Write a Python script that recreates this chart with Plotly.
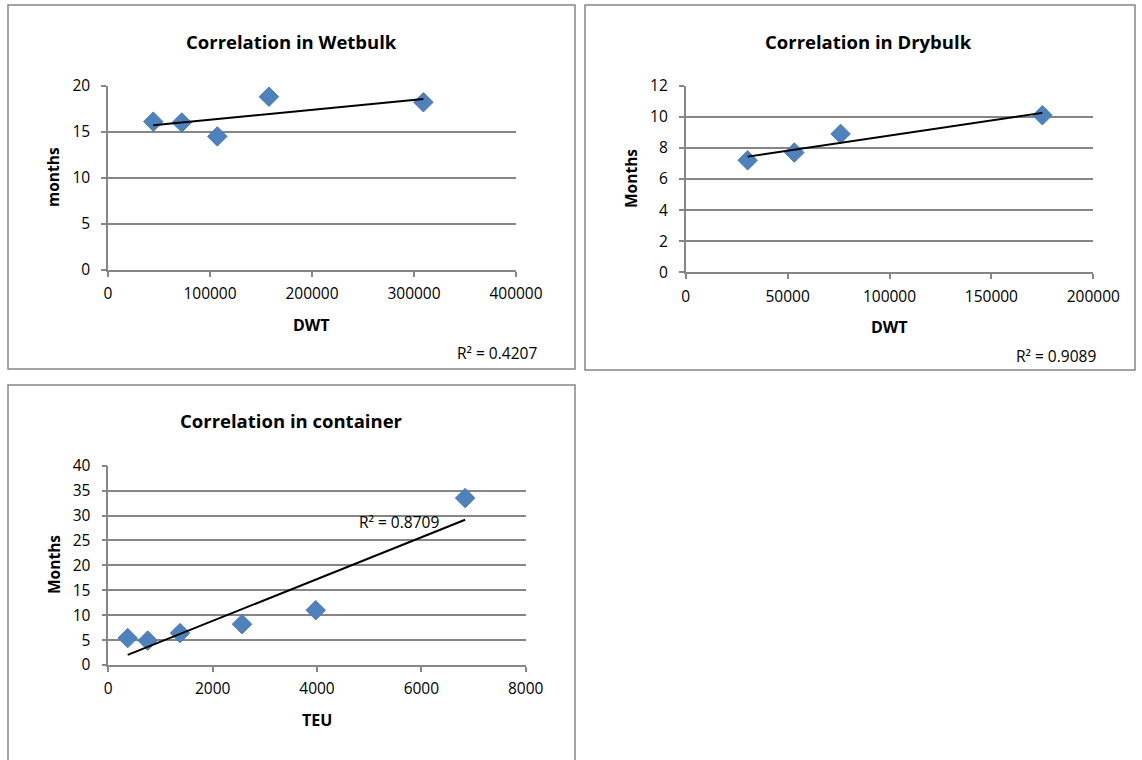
import numpy as np
import plotly.graph_objects as go

# --- data -------------------------------------------------------------
wet_dwt = [44400, 72300, 107200, 157800, 309200]
wet_months = [16.1, 16.0, 14.5, 18.8, 18.2]
wet_r2 = "R² = 0.4207"

dry_dwt = [30400, 53300, 76000, 175000]
dry_months = [7.2, 7.7, 8.9, 10.1]
dry_r2 = "R² = 0.9089"

cont_teu = [372, 755, 1375, 2563, 3976, 6839]
cont_months = [5.4, 4.9, 6.4, 8.2, 11.0, 33.5]
cont_r2 = "R² = 0.8709"

titles = ["Correlation in Wetbulk", "Correlation in Drybulk", "Correlation in container"]
x_titles = ["DWT", "DWT", "TEU"]
y_titles = ["months", "Months", "Months"]

# --- page geometry (pixels) ------------------------------------------
W, H = 1142, 760
FONT = "Open Sans"
GRAY = "#868686"
BLUE = "#4F81BD"


def px(x):
    return x / W


def py(y):
    return 1 - y / H


fig = go.Figure()

panels = [
    dict(x=wet_dwt, y=wet_months, xr=[0, 400000], xd=100000, yr=[0, 20], yd=5,
         plot=(108, 85.7, 516, 270), box=(8, 5, 575, 369), closed=True,
         title_xy=(291, 41), xt_xy=(312, 325), yt_xy=(53, 177),
         r2=wet_r2, r2_xy=(539, 353), r2_anchor="right"),
    dict(x=dry_dwt, y=dry_months, xr=[0, 200000], xd=50000, yr=[0, 12], yd=2,
         plot=(685.7, 85.7, 1093.3, 272.3), box=(585, 5, 1135, 370), closed=True,
         title_xy=(868, 41), xt_xy=(889.5, 327), yt_xy=(631, 179),
         r2=dry_r2, r2_xy=(1098, 356), r2_anchor="right"),
    dict(x=cont_teu, y=cont_months, xr=[0, 8000], xd=2000, yr=[0, 40], yd=5,
         plot=(108.3, 465.7, 525.7, 665), box=(8, 385, 575, 760), closed=False,
         title_xy=(291, 420), xt_xy=(317, 720), yt_xy=(54, 565),
         r2=cont_r2, r2_xy=(357, 522), r2_anchor="left"),
]

annotations = []
shapes = []

for i, p in enumerate(panels, start=1):
    xa = "x" if i == 1 else f"x{i}"
    ya = "y" if i == 1 else f"y{i}"
    x0, y0, x1, y1 = p["plot"]

    # scatter points
    fig.add_trace(go.Scatter(
        x=p["x"], y=p["y"], mode="markers", xaxis=xa, yaxis=ya,
        marker=dict(symbol="diamond", size=15, color=BLUE,
                    line=dict(color="#4A7EBB", width=1)),
        showlegend=False, hoverinfo="x+y", cliponaxis=False))

    # linear trend line over the data span
    slope, intercept = np.polyfit(p["x"], p["y"], 1)
    tx = np.array([min(p["x"]), max(p["x"])])
    fig.add_trace(go.Scatter(
        x=tx, y=slope * tx + intercept, mode="lines", xaxis=xa, yaxis=ya,
        line=dict(color="black", width=2), showlegend=False, hoverinfo="skip"))

    axis_common = dict(
        showline=True, linecolor=GRAY, linewidth=1.5,
        ticks="outside", ticklen=5, tickcolor=GRAY, tickwidth=1.5,
        tickfont=dict(family=FONT, size=15.5, color="#000000"),
        zeroline=False, fixedrange=True, automargin=False,
    )
    fig.update_layout({
        f"xaxis{'' if i == 1 else i}": dict(
            axis_common, domain=[px(x0), px(x1)], range=p["xr"], dtick=p["xd"],
            tick0=0, tickformat="d", showgrid=False, anchor=ya,
            ticklabelstandoff=4),
        f"yaxis{'' if i == 1 else i}": dict(
            axis_common, domain=[py(y1), py(y0)], range=p["yr"], dtick=p["yd"],
            tick0=0, showgrid=True, gridcolor=GRAY, gridwidth=1.5, anchor=xa,
            ticklabelstandoff=8),
    })

    # chart border (the lower chart runs off the bottom of the page)
    bx0, by0, bx1, by1 = p["box"]
    X0, X1, Y0, Y1 = px(bx0), px(bx1), py(by0), py(by1)
    if p["closed"]:
        path = f"M{X0},{Y1} L{X0},{Y0} L{X1},{Y0} L{X1},{Y1} Z"
    else:
        path = f"M{X0},{Y1} L{X0},{Y0} L{X1},{Y0} L{X1},{Y1}"
    shapes.append(dict(type="path", xref="paper", yref="paper", path=path,
                       line=dict(color=GRAY, width=1.5), layer="below"))

    annotations += [
        dict(text=f"<b>{titles[i-1]}</b>", x=px(p["title_xy"][0]), y=py(p["title_xy"][1]),
             font=dict(family=FONT, size=18.5, color="#000000")),
        dict(text=f"<b>{x_titles[i-1]}</b>", x=px(p["xt_xy"][0]), y=py(p["xt_xy"][1]),
             font=dict(family=FONT, size=16, color="#000000")),
        dict(text=f"<b>{y_titles[i-1]}</b>", x=px(p["yt_xy"][0]), y=py(p["yt_xy"][1]),
             textangle=-90, font=dict(family=FONT, size=15.5, color="#000000")),
        dict(text=p["r2"], x=px(p["r2_xy"][0]), y=py(p["r2_xy"][1]),
             xanchor=p["r2_anchor"], font=dict(family=FONT, size=15.5, color="#000000")),
    ]

for a in annotations:
    a.update(xref="paper", yref="paper", showarrow=False)
    a.setdefault("xanchor", "center")
    a.setdefault("yanchor", "middle")

fig.update_layout(
    width=W, height=H, autosize=False,
    margin=dict(l=0, r=0, t=0, b=0, pad=0, autoexpand=False),
    paper_bgcolor="white", plot_bgcolor="white",
    annotations=annotations, shapes=shapes,
    font=dict(family=FONT), showlegend=False,
)

fig.write_html("out.html", config={"displayModeBar": False})
